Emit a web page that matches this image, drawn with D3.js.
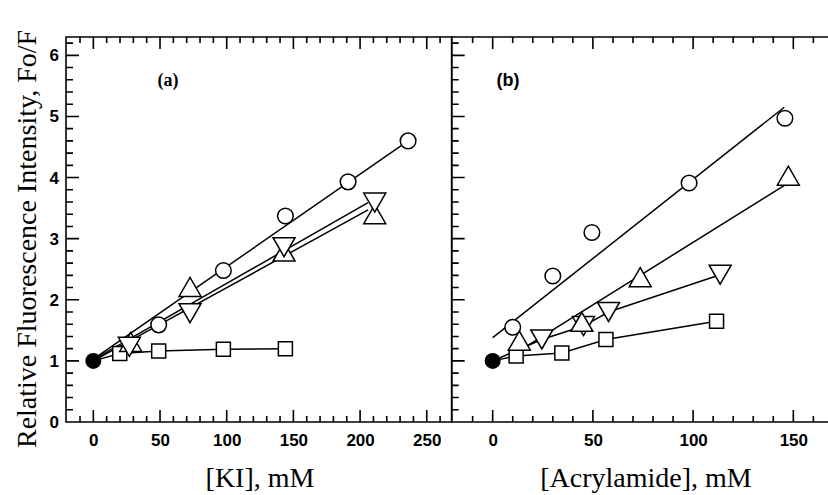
<!DOCTYPE html>
<html>
<head>
<meta charset="utf-8">
<script src="https://cdn.jsdelivr.net/npm/d3@7"></script>
</head>
<body style="margin:0">
<div id="chart"></div>
<script>
// shared starting point (no quencher), drawn as a filled circle
const controlPoint = [0, 1];

// panel (a): KI quenching
const kiCircle = [[49, 1.59], [97.5, 2.48], [144, 3.37], [191, 3.93], [236, 4.60]];
const kiUp = [[28, 1.31], [72.5, 2.21], [143, 2.79], [211, 3.40]];
const kiDown = [[27, 1.23], [72.5, 1.78], [143, 2.86], [211, 3.59]];
const kiSquare = [[19.8, 1.12], [49, 1.16], [97.5, 1.19], [144, 1.20]];
const kiCircleFit = [[0, 1.03], [236, 4.60]];
const kiUpFit = [[0, 1.00], [206, 3.47]];
const kiDownFit = [[0, 1.02], [206, 3.59]];

// panel (b): acrylamide quenching
const acCircle = [[10, 1.55], [30, 2.39], [49.5, 3.10], [98, 3.91], [145.8, 4.97]];
const acUp = [[13.3, 1.33], [44.5, 1.64], [73.6, 2.37], [147.5, 4.03]];
const acDown = [[24.5, 1.35], [45.3, 1.57], [57.8, 1.80], [113.5, 2.41]];
const acSquare = [[11.7, 1.08], [34.5, 1.13], [56.5, 1.35], [111.7, 1.65]];
const acCircleFit = [[0, 1.38], [145.5, 5.15]];
const acUpFit = [[10, 1.10], [146, 3.88]];

const yMajor = [0, 1, 2, 3, 4, 5, 6];
const kiMajor = [0, 50, 100, 150, 200, 250];
const acMajor = [0, 50, 100, 150];

const WIDTH = 828;
const HEIGHT = 495;
const TOP = 37;
const BOTTOM = 422;

const svg = d3.select("#chart").append("svg")
  .attr("width", WIDTH)
  .attr("height", HEIGHT);

const y = d3.scaleLinear().domain([0, 6.3]).range([BOTTOM, TOP]);

const panels = [
  {
    x: d3.scaleLinear().domain([-20.5, 268.7]).range([66, 451.7]),
    major: kiMajor,
    minor: d3.range(-10, 261, 10),
    yLabels: true,
    tag: "(a)", tagX: 168, tagFont: "'Liberation Serif', 'Times New Roman', serif",
    title: "[KI], mM", titleX: 260,
    lines: [kiCircleFit, kiUpFit, kiDownFit, [controlPoint, ...kiSquare]],
    series: [[kiCircle, "circle"], [kiSquare, "square"], [kiUp, "up"], [kiDown, "down"]]
  },
  {
    x: d3.scaleLinear().domain([-20.45, 168.3]).range([451.7, 830]),
    major: acMajor,
    minor: d3.range(-10, 171, 10),
    yLabels: false,
    tag: "(b)", tagX: 508, tagFont: "'Liberation Sans', Arial, sans-serif",
    title: "[Acrylamide], mM", titleX: 646,
    lines: [acCircleFit, acUpFit, [controlPoint, ...acDown], [controlPoint, ...acSquare]],
    series: [[acCircle, "circle"], [acSquare, "square"], [acDown, "down"], [acUp, "up"]]
  }
];

// marker outlines, centred on the point
function marker(type) {
  if (type === "circle") return d3.symbol(d3.symbolCircle, Math.PI * 7.8 * 7.8)();
  if (type === "square") return "M-7,-7H7V7H-7Z";
  if (type === "up") return "M0,-9.5L11,9.5L-11,9.5Z";
  return "M0,9.5L11,-9.5L-11,-9.5Z";
}

const yMinor = d3.range(1, 32).map(i => i * 0.2).filter(v => Math.abs(v - Math.round(v)) > 0.01);
const labelFont = "'Liberation Sans', Arial, sans-serif";
const serif = "'Liberation Serif', 'Times New Roman', serif";

panels.forEach(p => {
  const x = p.x;
  const g = svg.append("g");
  const left = x.range()[0];
  const right = x.range()[1];

  // frame and all ticks in one path
  const frame = d3.path();
  frame.moveTo(left, TOP);
  frame.lineTo(right, TOP);
  frame.lineTo(right, BOTTOM);
  frame.lineTo(left, BOTTOM);
  frame.closePath();
  p.minor.forEach(v => {
    const len = p.major.includes(v) ? 12 : 6;
    frame.moveTo(x(v), BOTTOM);
    frame.lineTo(x(v), BOTTOM - len);
    frame.moveTo(x(v), TOP);
    frame.lineTo(x(v), TOP + len);
  });
  yMajor.forEach(v => { frame.moveTo(left, y(v)); frame.lineTo(left + 13, y(v)); });
  yMinor.forEach(v => { frame.moveTo(left, y(v)); frame.lineTo(left + 7, y(v)); });
  g.append("path")
    .attr("d", frame.toString())
    .attr("fill", "none")
    .attr("stroke", "#000")
    .attr("stroke-width", 1.6);

  // x tick labels
  g.append("g").attr("transform", `translate(0,${BOTTOM})`)
    .call(d3.axisBottom(x).tickValues(p.major).tickSize(0).tickPadding(12))
    .call(a => a.select(".domain").remove())
    .selectAll("text")
    .style("font-family", labelFont)
    .style("font-size", "17px")
    .style("font-weight", "bold")
    .attr("fill", "#000");

  if (p.yLabels) {
    g.append("g").attr("transform", `translate(${left},0)`)
      .call(d3.axisLeft(y).tickValues(yMajor).tickSize(0).tickPadding(7).tickFormat(d3.format("d")))
      .call(a => a.select(".domain").remove())
      .selectAll("text")
      .style("font-family", labelFont)
      .style("font-size", "17px")
      .style("font-weight", "bold")
      .attr("fill", "#000");
  }

  // fitted / connecting lines
  const line = d3.line().x(d => x(d[0])).y(d => y(d[1]));
  g.selectAll("path.fit").data(p.lines).enter().append("path")
    .attr("class", "fit")
    .attr("d", line)
    .attr("fill", "none")
    .attr("stroke", "#000")
    .attr("stroke-width", 1.5);

  // open markers
  p.series.forEach(([pts, type]) => {
    g.selectAll(null).data(pts).enter().append("path")
      .attr("transform", d => `translate(${x(d[0])},${y(d[1])})`)
      .attr("d", marker(type))
      .attr("fill", "#fff")
      .attr("stroke", "#000")
      .attr("stroke-width", 1.5);
  });

  // filled starting point
  g.append("circle")
    .attr("cx", x(controlPoint[0]))
    .attr("cy", y(controlPoint[1]))
    .attr("r", 8)
    .attr("fill", "#000");

  g.append("text")
    .attr("x", p.tagX)
    .attr("y", 86)
    .attr("text-anchor", "middle")
    .style("font-family", p.tagFont)
    .style("font-size", "18px")
    .style("font-weight", "bold")
    .text(p.tag);

  g.append("text")
    .attr("x", p.titleX)
    .attr("y", 487)
    .attr("text-anchor", "middle")
    .style("font-family", serif)
    .style("font-size", "28px")
    .text(p.title);
});

svg.append("text")
  .attr("transform", "translate(36,239) rotate(-90)")
  .attr("text-anchor", "middle")
  .style("font-family", serif)
  .style("font-size", "28px")
  .text("Relative Fluorescence Intensity, Fo/F");
</script>
</body>
</html>
